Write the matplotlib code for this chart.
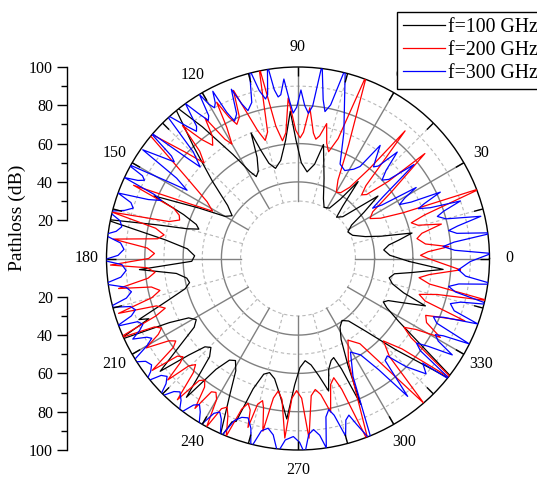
import numpy as np
import matplotlib.pyplot as plt
from matplotlib.lines import Line2D

plt.rcParams['font.family'] = ['Liberation Serif', 'DejaVu Serif']

# ---------------- data (angle in degrees, pathloss in dB) ----------------
series_labels = ['f=100 GHz', 'f=200 GHz', 'f=300 GHz']
series_colors = ['#000000', '#ff0000', '#0000ff']

black_theta = [-1.5, 2, 5.7, 8.5, 10.5, 12.6, 15, 18, 23, 28, 32, 35, 38, 40.5, 43, 47, 49.5, 52, 54.5, 58, 63, 67, 72,
               77.4, 80, 84, 88, 91, 93, 96, 100, 104, 107, 109, 110.5, 112, 114.5, 117, 119, 122, 126, 129, 133, 138,
               143, 147, 150, 153, 156.5, 159, 161.5, 163.5, 165, 166.5, 168.5, 172, 175, 178.5, 181.5, 184, 187, 190,
               192.5, 195, 198, 201, 202, 204.5, 206.5, 208.5, 211, 213.5, 216.5, 219.3, 221.5, 223.5, 225.6, 228,
               231.2, 233.5, 236, 238.5, 241, 243.5, 246.5, 248, 249.2, 251, 253.5, 256, 259, 262.5, 266, 268.5, 271,
               274, 277, 280, 283, 285.5, 288, 289.8, 291.5, 293.3, 295, 298, 301.5, 305.4, 309, 313, 317, 322, 328,
               331, 333, 335, 337, 339.6, 342, 345, 348, 351, 353, 355.7, 358.5]
black_r = [58, 48, 45, 48, 54, 61, 45, 37, 31, 29.5, 33, 42, 53, 40, 32, 29.5, 36, 51, 38, 31, 30, 34, 44,
           61, 50, 45.5, 50, 62, 77, 62, 52, 48.5, 52, 60, 70, 57, 50, 48, 52, 64, 85, 103, 80, 60,
           46, 41, 44, 58, 82, 64, 56, 54, 60, 75, 103, 70, 58, 54, 55.5, 83, 64, 59,
           58, 61, 72, 89, 84, 103, 75, 65, 62, 65, 77, 93, 76, 67, 65, 69,
           93, 72, 64, 62.5, 67, 80, 103, 92, 91, 72, 63, 61.4, 64, 72, 84, 66, 57,
           53.5, 56, 62, 71, 60, 56, 55, 62, 83, 62, 48, 42, 39.7, 42, 52, 70, 105, 62,
           53, 50, 52, 59, 71, 58, 51, 48.7, 51, 60, 76, 58]

red_theta = [-4, 0, 1.5, 3, 4.5, 6.5, 9.5, 11.5, 13.5, 15.5, 17.5, 19, 21, 23.5, 26, 29, 32, 35.5, 39.6, 40.5, 43, 45,
             47, 50, 51.5, 54, 57, 60, 63, 66, 69.5, 71.5, 74, 76, 78, 80, 81.5, 83, 85.5, 87.5, 89, 91, 93.5, 95.5,
             97.5, 99.5, 101.5, 103.5, 105.5, 107.5, 111, 112.5, 114.5, 116, 117.5, 118.5, 120, 121.5, 123.5, 125,
             127, 129, 131, 132.5, 134.5, 136.5, 140, 144, 148, 151, 153, 156, 158, 160, 162, 164, 166, 168, 170,
             172, 174, 176, 178, 180, 182, 183.5, 185.5, 187.5, 189.5, 191, 193, 195, 197, 198.5, 200.5, 202, 204,
             205.5, 207, 208.5, 210.5, 212.5, 214, 215.5, 217.5, 219, 220.5, 221.5, 223, 224.5, 226, 227.5, 229.5,
             231, 232.5, 234, 235.5, 237, 238.5, 240, 241.5, 243, 244.5, 246, 248, 249.5, 251, 252.5, 253.5, 254.5,
             256, 257, 258.5, 260, 261.5, 263.5, 265.8, 267.5, 269.4, 271.5, 273.5, 275.5, 277.5, 279.5, 282, 284.5,
             286.7, 288.5, 291, 296, 301.5, 306, 311, 313, 316, 319, 322, 325, 327, 329, 331, 333.5, 336, 337.5,
             339.5, 341.5, 343.5, 345.5, 347.5, 349, 351, 353, 356]
red_r = [85, 68, 64, 68, 79, 67, 63, 66, 77, 65, 62, 70, 103, 60, 48, 43, 46, 60, 86, 62, 49, 47,
         52, 87, 60, 46, 41, 40, 46, 65, 103, 66, 58, 62, 72, 65, 63, 66, 79, 66, 63, 67, 84, 66,
         62, 70, 103, 68, 64, 70, 94, 80, 77, 82, 92, 78, 69, 73, 88, 78,
         74, 80, 92, 76, 70, 80, 103, 72, 56, 51, 62, 94, 70, 66, 65, 70, 100, 76, 71,
         74, 97, 79, 75, 78, 98, 79, 75, 79, 95, 78, 74, 79, 98, 78, 74, 80, 103,
         83, 80, 83, 92, 80, 77, 80, 96, 81, 79, 82, 93, 80, 77, 81, 97,
         82, 80, 83, 95, 83, 82, 85, 100, 88, 86, 90, 100, 84, 80, 83, 92, 79,
         76.5, 80, 92, 74, 70, 74, 94, 73, 69, 73, 94, 72, 69, 72, 82, 68,
         65, 72, 103, 60, 50, 55, 100, 70, 62, 72, 103, 72, 66, 72, 85, 75, 73, 80,
         93, 70, 66, 75, 102, 70, 64, 69, 85]

blue_theta = [-4, -1, 1.5, 3, 4.7, 6, 7.5, 9, 10.5, 11.5, 13, 15, 16.8, 18, 19.5, 21, 22.5, 23.5, 25, 26.5, 28, 29.5,
              31, 32.5, 34, 36, 39, 41, 43, 45, 47, 49, 50.5, 52, 54, 56, 58, 62, 66, 70, 76, 78, 79.6, 81, 82.9,
              84.5, 85.9, 87.5, 89, 90.5, 91.9, 93, 94.5, 96, 97, 98, 99, 100.5, 101.5, 103, 104.4, 106.5, 108.7,
              110, 111.5, 113, 114.8, 116, 117, 118, 119, 120, 121, 122, 123, 124.5, 126, 127.5, 128.6, 130, 132.5,
              134.5, 136.9, 138, 139.5, 141, 142, 143, 145, 146.5, 148.4, 149.5, 151, 152, 153, 154, 155, 156, 157,
              158.5, 160, 161.5, 163, 164.5, 166, 168, 169.8, 171.5, 173, 175, 177, 179, 180.5, 182, 184, 186,
              187.5, 189.5, 191.3, 193, 194.5, 196, 197.5, 199, 200.5, 201.5, 203, 204.5, 206, 207.5, 208.6, 210,
              212, 214, 216, 217.5, 219, 220.5, 222, 223.5, 225, 227, 228.5, 230.5, 232.5, 234.5, 236, 237.5, 239.5,
              241.5, 243, 244.5, 246.5, 248.5, 250.5, 252.6, 254.5, 256, 258, 260, 262, 264, 266, 268.5, 270.5,
              272, 273.5, 275.2, 277, 278.5, 280, 281.5, 283, 285, 286.5, 288, 289.5, 292, 295, 299.3, 303, 306,
              308.5, 310.5, 312.5, 315, 318, 320, 321.5, 323, 324.5, 326, 328, 329.5, 331, 332, 333.5, 335, 336.7,
              338, 340, 341.5, 343.5, 345, 346.5, 348, 349.5, 351, 352.5, 354, 356]
blue_r = [84, 90, 101, 82, 76, 82, 103, 84, 80, 85, 98, 80, 76, 80, 90, 74, 68, 72, 82, 66, 60, 64,
          72, 52, 47, 55, 78, 63, 60, 65, 76, 64, 62, 66, 73, 58, 55, 52, 54, 70, 102, 82, 78, 84, 102,
          80, 76, 80, 88, 79, 76, 82, 94, 86, 85, 89, 102, 87, 85, 90, 102, 85, 81.5,
          86, 95, 82, 79, 85, 98, 92, 90, 93, 100, 88, 86, 92, 100, 87, 85, 90, 102,
          78, 70, 80, 102, 85, 82, 87, 99, 76, 68, 80, 102, 92, 90, 93, 100, 82, 77.5,
          84, 100, 92, 90, 94, 102, 95, 93.5, 96, 102, 93, 91, 94, 102, 92, 90, 93,
          102, 91, 88.7, 92, 102, 91, 89, 92, 101, 90, 88, 91, 96, 89, 87, 91,
          102, 96, 94.5, 97, 102, 94, 92, 95, 102, 95, 93, 96, 102, 94, 92, 95, 102,
          92, 90, 93, 102, 91, 88, 87.2, 92, 102, 92, 90, 93, 102, 95, 93, 96,
          102, 92, 89.7, 93, 100, 84, 80.5, 84, 96, 88, 86, 92, 103, 68, 56, 60, 72,
          92, 70, 69, 80, 90, 85, 103, 80, 76, 82, 95, 85, 82, 86, 100, 80, 77,
          82, 100, 86, 83, 88, 103, 84, 80, 85, 103, 88, 84]

angle_labels = [0, 30, 60, 90, 120, 150, 180, 210, 240, 270, 300, 330]
radial_ticks = [20, 40, 60, 80, 100]

# ---------------- layout ----------------
W, H = 537, 479
cx, cy, R = 298.0, 258.5, 191.5
fig = plt.figure(figsize=(W / 100, H / 100), dpi=100)

ax = fig.add_axes([(cx - R) / W, (H - cy - R) / H, 2 * R / W, 2 * R / H], projection='polar')
ax.set_theta_zero_location('E')
ax.set_theta_direction(1)
ax.set_ylim(0, 100)
ax.grid(False)
ax.set_yticks([])
ax.set_xticks([])
ax.spines['polar'].set_linewidth(1.0)
ax.spines['polar'].set_color('black')

# grid: circles and spokes starting at r = 30
tt = np.linspace(0, 2 * np.pi, 721)
for rr in [30, 50, 70, 90]:
    ax.plot(tt, np.full_like(tt, rr), color='#b8b8b8', lw=0.8, ls=(0, (3, 2.5)), zorder=1)
for rr in [40, 60, 80]:
    ax.plot(tt, np.full_like(tt, rr), color='#808080', lw=1.0, zorder=1)
for a in range(0, 360, 15):
    t = np.deg2rad(a)
    if a % 30 == 0:
        ax.plot([t, t], [30, 100], color='#808080', lw=1.0, zorder=1)
    else:
        ax.plot([t, t], [30, 100], color='#b8b8b8', lw=0.8, ls=(0, (3, 2.5)), zorder=1)
    # inward tick marks on the outer circle
    ax.plot([t, t], [95.2, 100], color='black', lw=1.0, zorder=4, solid_capstyle='butt')

# curves
for th, rv, col, lab in [(black_theta, black_r, series_colors[0], series_labels[0]),
                         (red_theta, red_r, series_colors[1], series_labels[1]),
                         (blue_theta, blue_r, series_colors[2], series_labels[2])]:
    th_c = list(th) + [th[0] + 360]
    r_c = list(rv) + [rv[0]]
    ax.plot(np.deg2rad(th_c), r_c, color=col, lw=0.9, label=lab, zorder=3)

for a in angle_labels:
    ax.text(np.deg2rad(a), 110.5, str(a), ha='center', va='center', fontsize=11.5, zorder=2)

# left radial scale (mirrored)
xs = 67.0
for top in (True, False):
    if top:
        rect = [xs / W, (H - cy) / H, 0.0001, R / H]
    else:
        rect = [xs / W, (H - cy - R) / H, 0.0001, R / H]
    la = fig.add_axes(rect)
    la.patch.set_visible(False)
    for s in ['top', 'right', 'bottom']:
        la.spines[s].set_visible(False)
    la.spines['left'].set_bounds(20, 100)
    la.spines['left'].set_linewidth(1.0)
    if top:
        la.set_ylim(0, 100)
    else:
        la.set_ylim(100, 0)
    la.set_xticks([])
    la.set_yticks(radial_ticks)
    la.set_yticks([30, 50, 70, 90], minor=True)
    la.tick_params(axis='y', which='major', direction='out', length=7, width=1.0, labelsize=11.5, pad=3)
    la.tick_params(axis='y', which='minor', direction='out', length=4, width=1.0)

fig.text(17 / W, (H - 218) / H, 'Pathloss (dB)', rotation=90, ha='center', va='center', fontsize=14)

handles = [Line2D([], [], color=c, lw=0.9) for c in series_colors]
leg = fig.legend(handles, series_labels, loc='upper left', bbox_to_anchor=(397 / W, (H - 12) / H),
                 fontsize=14.2, frameon=True, fancybox=False, edgecolor='black', framealpha=1,
                 handlelength=2.15, handletextpad=0.15, borderpad=0.3, borderaxespad=0,
                 labelspacing=0.2)
leg.get_frame().set_linewidth(1.0)
leg.set_zorder(10)

fig.savefig('out.png', dpi=100)
